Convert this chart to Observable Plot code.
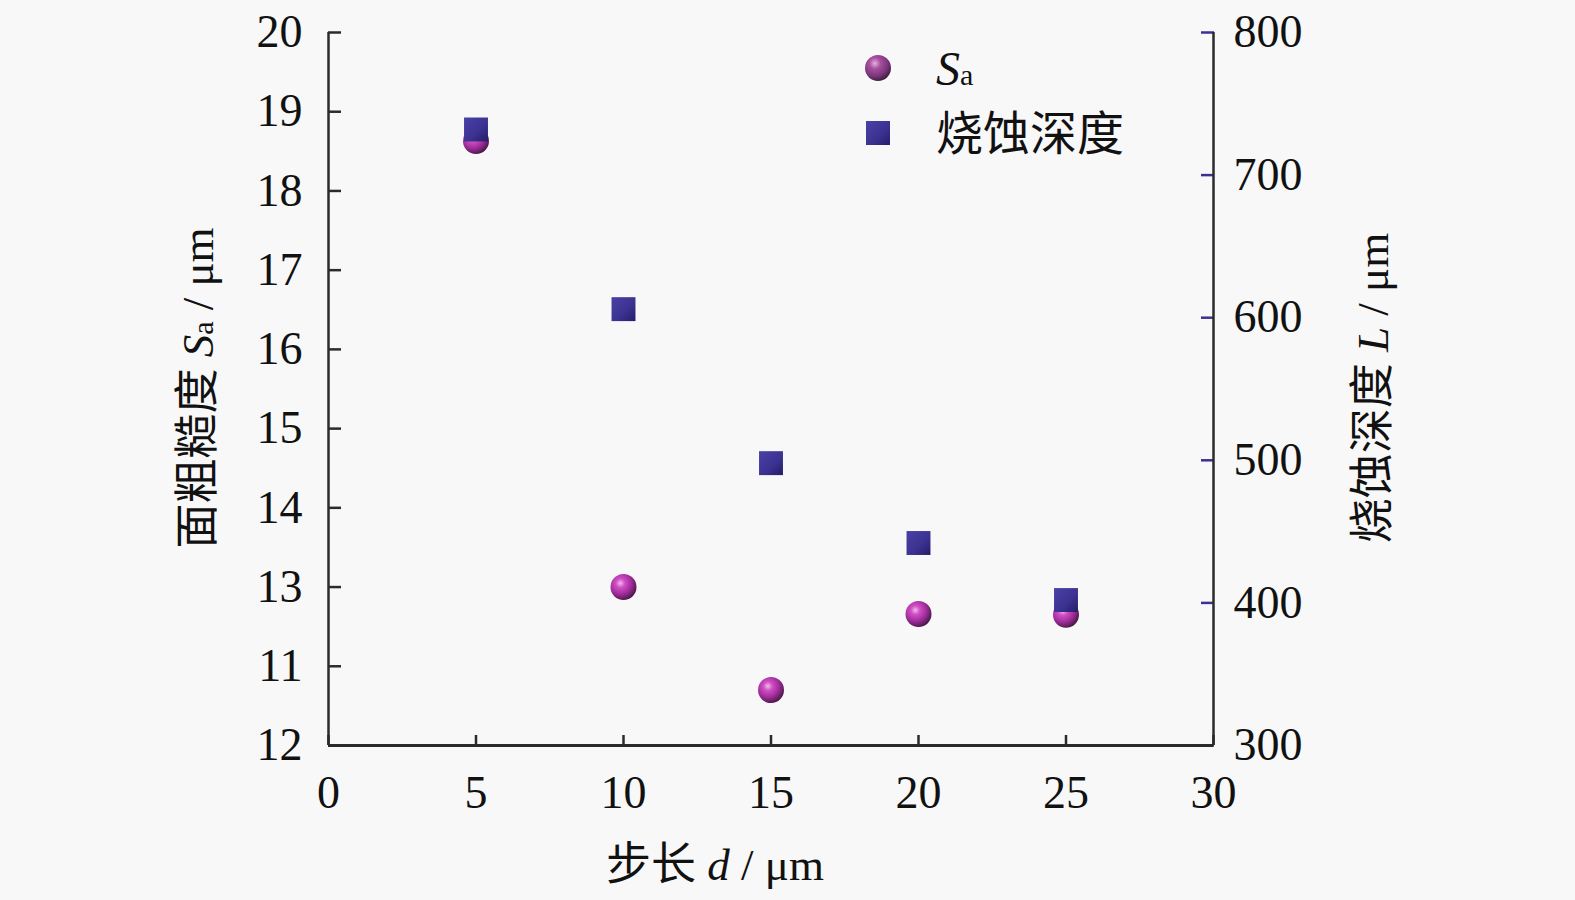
<!DOCTYPE html>
<html><head><meta charset="utf-8">
<script src="https://cdn.jsdelivr.net/npm/d3@7"></script>
<script src="https://cdn.jsdelivr.net/npm/@observablehq/plot@0.6"></script>
<style>
html,body{margin:0;padding:0;background:#f8f8f8;}
#chart{width:1575px;height:900px;}
</style></head>
<body><div id="chart"></div>
<script>
const steps = [5, 10, 15, 20, 25];
const saValues = [18.63, 13.0, 11.7, 12.66, 12.65];
const depthValues = [732, 606, 498, 442, 402];
const xTicks = [0, 5, 10, 15, 20, 25, 30];
const leftTicks = [20, 19, 18, 17, 16, 15, 14, 13, 12, 11];
const leftTickLabels = ["20", "19", "18", "17", "16", "15", "14", "13", "11", "12"];
const rightTicks = [300, 400, 500, 600, 700, 800];

const SA_MIN = 11, SA_MAX = 20, D_MIN = 300, D_MAX = 800;
const toSa = d => SA_MIN + (d - D_MIN) / (D_MAX - D_MIN) * (SA_MAX - SA_MIN);
const fromSa = v => D_MIN + (v - SA_MIN) / (SA_MAX - SA_MIN) * (D_MAX - D_MIN);

const saData = steps.map((s, i) => ({x: s, y: saValues[i]}));
const depthData = steps.map((s, i) => ({x: s, y: toSa(depthValues[i])}));

const W = 1575, H = 900;
const mL = 328, mR = 362, mT = 32, mB = 155;
const serif = "'Liberation Serif','Times New Roman','Noto Sans CJK SC',serif";
const axisColor = "#2b2b2b";

const plot = Plot.plot({
  width: W, height: H,
  marginLeft: mL, marginRight: mR, marginTop: mT, marginBottom: mB,
  style: {background: "#f8f8f8", fontFamily: serif, fontSize: "46px", color: "#111", overflow: "visible"},
  x: {domain: [0, 30]},
  y: {domain: [SA_MIN, SA_MAX]},
  marks: [
    Plot.axisX({ticks: xTicks, tickSize: -10, tickPadding: 40, tickFormat: d => String(d), stroke: axisColor, strokeWidth: 2.5, label: null, fontSize: 46}),
    Plot.axisY({anchor: "left", ticks: leftTicks, tickSize: -13, tickPadding: 39, strokeWidth: 2.5, stroke: axisColor,
      tickFormat: v => leftTickLabels[leftTicks.indexOf(v)], label: null, fontSize: 46}),
    Plot.axisY({anchor: "right", ticks: rightTicks.map(toSa), tickSize: -13, tickPadding: 33, strokeWidth: 2.5, stroke: "#3b3290",
      tickFormat: v => String(Math.round(fromSa(v))), label: null, fontSize: 46}),
    Plot.ruleX([0, 30], {stroke: axisColor, strokeWidth: 2.5}),
    Plot.ruleY([SA_MIN], {stroke: axisColor, strokeWidth: 3}),
    Plot.dot(saData, {x: "x", y: "y", r: 13, fill: "url(#sphereGrad)", stroke: "none"}),
    Plot.dot(depthData, {x: "x", y: "y", r: 13.5, symbol: "square", fill: "url(#squareGrad)", stroke: "none"})
  ]
});

const svg = d3.select(plot);
const defs = svg.insert("defs", ":first-child");
const rg = defs.append("radialGradient").attr("id", "sphereGrad").attr("cx", "0.38").attr("cy", "0.35").attr("r", "0.7");
[["0%", "#f4b8ee"], ["25%", "#cf4fc4"], ["60%", "#a32d9c"], ["90%", "#5a1c58"], ["100%", "#3a1238"]]
  .forEach(([o, c]) => rg.append("stop").attr("offset", o).attr("stop-color", c));
const lg = defs.append("radialGradient").attr("id", "legendSphere").attr("cx", "0.38").attr("cy", "0.32").attr("r", "0.72");
[["0%", "#e6b0de"], ["30%", "#a6509e"], ["70%", "#7a3578"], ["100%", "#3a1a3a"]]
  .forEach(([o, c]) => lg.append("stop").attr("offset", o).attr("stop-color", c));
const sg = defs.append("linearGradient").attr("id", "squareGrad").attr("x1", "0").attr("y1", "0").attr("x2", "1").attr("y2", "1");
[["0%", "#4a41a6"], ["60%", "#3a3190"], ["100%", "#241d66"]]
  .forEach(([o, c]) => sg.append("stop").attr("offset", o).attr("stop-color", c));

// Axis labels
const g = svg.append("g").attr("font-family", serif).attr("fill", "#111");
const xl = g.append("text").attr("x", 715).attr("y", 880).attr("text-anchor", "middle").attr("font-size", 45);
xl.append("tspan").text("步长 ");
xl.append("tspan").attr("font-style", "italic").text("d");
xl.append("tspan").text(" / μm");

const yl = g.append("text").attr("transform", "translate(213,388) rotate(-90)").attr("text-anchor", "middle").attr("font-size", 45);
yl.append("tspan").text("面粗糙度 ");
yl.append("tspan").attr("font-style", "italic").text("S");
yl.append("tspan").attr("font-size", 30).text("a");
yl.append("tspan").text(" / μm");

const yr = g.append("text").attr("transform", "translate(1388,388) rotate(-90)").attr("text-anchor", "middle").attr("font-size", 45);
yr.append("tspan").text("烧蚀深度 ");
yr.append("tspan").attr("font-style", "italic").text("L");
yr.append("tspan").text(" / μm");

// Legend
const leg = svg.append("g").attr("font-family", serif).attr("fill", "#111").attr("text-anchor", "start");
leg.append("circle").attr("cx", 878).attr("cy", 68).attr("r", 13).attr("fill", "url(#legendSphere)");
const lt1 = leg.append("text").attr("x", 936).attr("y", 85).attr("font-size", 48);
lt1.append("tspan").attr("font-style", "italic").text("S");
lt1.append("tspan").attr("font-size", 30).text("a");
leg.append("rect").attr("x", 866).attr("y", 121).attr("width", 24).attr("height", 24).attr("fill", "url(#squareGrad)");
leg.append("text").attr("x", 936).attr("y", 150).attr("font-size", 47).text("烧蚀深度");

document.getElementById("chart").appendChild(plot);
</script></body></html>
